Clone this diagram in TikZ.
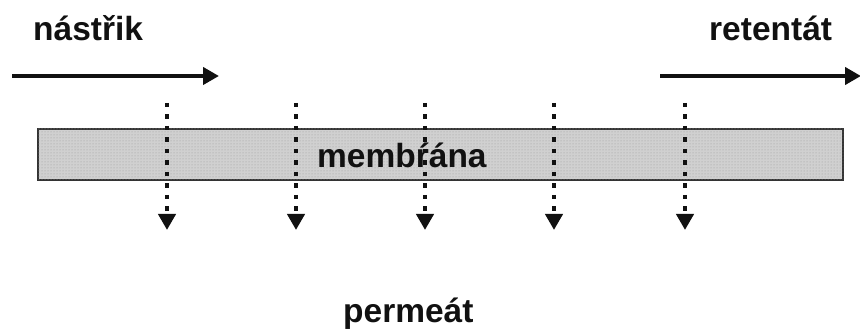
\documentclass[tikz,border=0pt]{standalone}
\usepackage{fontspec}
\setmainfont{Liberation Sans}
\usetikzlibrary{arrows.meta,patterns}
\definecolor{txt}{HTML}{111111}
\definecolor{memfill}{HTML}{D0D0D0}
\definecolor{memedge}{HTML}{333333}
\tikzset{
  lbl/.style={font=\fontsize{33.5}{38}\selectfont\bfseries, text=txt, inner sep=0pt, anchor=base west},
  flow/.style={line width=4.5pt, draw=txt, -{Triangle[length=16pt,width=17pt]}},
  perm/.style={line width=4.5pt, draw=txt, dash pattern=on 4.5pt off 7pt, -{Triangle[length=16pt,width=17pt]}},
  mem/.style={draw=memedge, line width=2pt, fill=memfill, postaction={pattern=dots, pattern color=gray!80}}
}
\begin{document}
\begin{tikzpicture}[x=1pt,y=-1pt]
\useasboundingbox (0,0) rectangle (860,336);
% membrane
\node[mem, minimum width=805pt, minimum height=51pt, inner sep=0pt, anchor=north west] (membrane) at (37,128) {};
\node[lbl] (memtext) at (317,168) {membŕána};
% labels
\node[lbl] (feed) at (33,41) {nástřik};
\node[lbl] (ret) at (709,41) {retentát};
\node[lbl] (permeate) at (343,323) {permeát};
% horizontal flow arrows
\coordinate (f1) at (12,76);
\coordinate (f2) at (219,76);
\coordinate (r1) at (660,76);
\coordinate (r2) at (861,76);
\draw[flow] (f1) -- (f2);
\draw[flow] (r1) -- (r2);
% permeate arrows
\foreach \i/\x in {1/167,2/296,3/425,4/554,5/685}{
  \coordinate (p\i a) at (\x,103);
  \coordinate (p\i b) at (\x,230);
  \draw[perm] (p\i a) -- (p\i b);
}
\end{tikzpicture}
\end{document}
